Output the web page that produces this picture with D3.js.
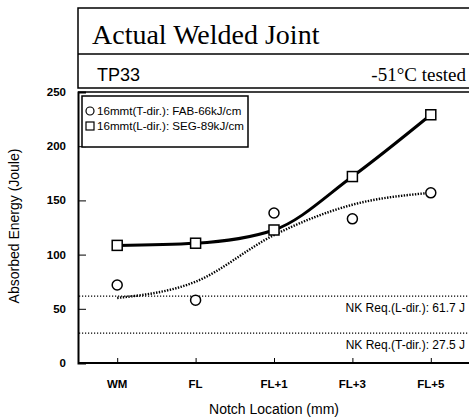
<!DOCTYPE html>
<html>
<head>
<meta charset="utf-8">
<script src="https://cdn.jsdelivr.net/npm/d3@7"></script>
<style>
  body { margin: 0; background: #fff; }
  text { font-family: "Liberation Sans", Arial, sans-serif; fill: #000; }
  .serif { font-family: "Liberation Serif", "Times New Roman", serif; }
</style>
</head>
<body>
<div id="chart"></div>
<script>
var locations = ["WM", "FL", "FL+1", "FL+3", "FL+5"];
var yTicks = [0, 50, 100, 150, 200, 250];
// 16mmt(L-dir.): SEG-89kJ/cm  (squares, solid line)
var lDir = [108.5, 110.5, 122.7, 172, 229];
// 16mmt(T-dir.): FAB-66kJ/cm  (circles)
var tDir = [72, 58, 138.4, 133, 157];
// dotted trend curve drawn through the T-dir. points
var tTrend = [60, 75, 118, 146, 157];
var nkReq = [
  {label: "NK Req.(L-dir.): 61.7 J", value: 61.7},
  {label: "NK Req.(T-dir.): 27.5 J", value: 27.5}
];

var W = 469, H = 420;
var margin = {top: 92, right: 0, bottom: 57, left: 78};

var svg = d3.select("#chart").append("svg")
    .attr("width", W)
    .attr("height", H);

var x = d3.scalePoint()
  .domain(locations)
  .range([margin.left, margin.left + 392])
  .padding(0.5);

var y = d3.scaleLinear()
  .domain([0, 250])
  .range([H - margin.bottom, margin.top]);

// header boxes
svg.append("rect")
  .attr("x", 78).attr("y", 8).attr("width", 420).attr("height", 80)
  .attr("fill", "none").attr("stroke", "#000").attr("stroke-width", 1.5);
svg.append("line")
  .attr("x1", 78).attr("x2", 469).attr("y1", 54).attr("y2", 54)
  .attr("stroke", "#000").attr("stroke-width", 1.5);
svg.append("text").attr("class", "serif")
  .attr("x", 92).attr("y", 44)
  .style("font-size", "28px")
  .text("Actual Welded Joint");
svg.append("text")
  .attr("x", 97).attr("y", 81)
  .style("font-size", "18px")
  .text("TP33");
svg.append("text").attr("class", "serif")
  .attr("x", 466).attr("y", 81)
  .attr("text-anchor", "end")
  .style("font-size", "19px")
  .text("-51°C tested");

// plot frame: top border + axes
svg.append("line")
  .attr("x1", margin.left).attr("x2", W).attr("y1", y(250)).attr("y2", y(250))
  .attr("stroke", "#000").attr("stroke-width", 1.5);

var yAxis = svg.append("g")
  .attr("transform", "translate(" + margin.left + ",0)")
  .call(d3.axisRight(y).tickValues(yTicks).tickSize(8).tickFormat(""));
yAxis.select(".domain").attr("stroke-width", 2);
yAxis.selectAll("text").remove();

var xAxis = svg.append("g")
  .attr("transform", "translate(0," + y(0) + ")")
  .call(d3.axisTop(x).tickSize(5).tickSizeOuter(0));
xAxis.select(".domain").attr("stroke-width", 2)
  .attr("d", "M" + margin.left + ",0H" + W);
xAxis.selectAll("text").remove();

// tick labels
svg.selectAll(".ylab").data(yTicks).enter().append("text")
  .attr("class", "ylab")
  .attr("x", 66)
  .attr("y", function(d) { return y(d) + 4; })
  .attr("text-anchor", "end")
  .style("font-size", "11.5px").style("font-weight", "bold")
  .text(function(d) { return d; });

svg.selectAll(".xlab").data(locations).enter().append("text")
  .attr("class", "xlab")
  .attr("x", function(d) { return x(d); })
  .attr("y", 388)
  .attr("text-anchor", "middle")
  .style("font-size", "11.5px").style("font-weight", "bold")
  .text(function(d) { return d; });

// axis titles
svg.append("text")
  .attr("x", 274).attr("y", 414)
  .attr("text-anchor", "middle")
  .style("font-size", "14px")
  .text("Notch Location (mm)");
svg.append("text")
  .attr("transform", "translate(19,226) rotate(-90)")
  .attr("text-anchor", "middle")
  .style("font-size", "14px")
  .text("Absorbed Energy (Joule)");

// NK requirement lines
svg.selectAll(".nk").data(nkReq).enter().append("line")
  .attr("class", "nk")
  .attr("x1", margin.left + 1).attr("x2", W)
  .attr("y1", function(d) { return y(d.value); })
  .attr("y2", function(d) { return y(d.value); })
  .attr("stroke", "#000").attr("stroke-width", 1.3)
  .attr("stroke-dasharray", "1.2,1.8");
svg.selectAll(".nklab").data(nkReq).enter().append("text")
  .attr("class", "nklab")
  .attr("x", 465)
  .attr("y", function(d) { return y(d.value) + 16; })
  .attr("text-anchor", "end")
  .style("font-size", "12px")
  .text(function(d) { return d.label; });

// T-dir trend (dotted)
var line = d3.line()
  .x(function(d, i) { return x(locations[i]); })
  .y(function(d) { return y(d); })
  .curve(d3.curveMonotoneX);

svg.append("path")
  .attr("d", line(tTrend))
  .attr("fill", "none").attr("stroke", "#000")
  .attr("stroke-width", 2.4)
  .attr("stroke-dasharray", "1.4,1.4");

// L-dir solid line
svg.append("path")
  .attr("d", line(lDir))
  .attr("fill", "none").attr("stroke", "#000")
  .attr("stroke-width", 3);

// markers
svg.selectAll(".sq").data(lDir).enter().append("rect")
  .attr("class", "sq")
  .attr("x", function(d, i) { return x(locations[i]) - 5; })
  .attr("y", function(d) { return y(d) - 5; })
  .attr("width", 10).attr("height", 10)
  .attr("fill", "#fff").attr("stroke", "#000").attr("stroke-width", 1.5);

svg.selectAll(".ci").data(tDir).enter().append("circle")
  .attr("class", "ci")
  .attr("cx", function(d, i) { return x(locations[i]); })
  .attr("cy", function(d) { return y(d); })
  .attr("r", 5)
  .attr("fill", "#fff").attr("stroke", "#000").attr("stroke-width", 1.5);

// legend
var lg = svg.append("g");
lg.append("rect")
  .attr("x", 82).attr("y", 96).attr("width", 166).attr("height", 51)
  .attr("fill", "#fff").attr("stroke", "#000").attr("stroke-width", 1.5);
lg.append("circle")
  .attr("cx", 90).attr("cy", 111).attr("r", 4)
  .attr("fill", "none").attr("stroke", "#000").attr("stroke-width", 1.2);
lg.append("rect")
  .attr("x", 86).attr("y", 122).attr("width", 8).attr("height", 8)
  .attr("fill", "none").attr("stroke", "#000").attr("stroke-width", 1.2);
lg.append("text")
  .attr("x", 97).attr("y", 115)
  .style("font-size", "11.6px")
  .text("16mmt(T-dir.): FAB-66kJ/cm");
lg.append("text")
  .attr("x", 97).attr("y", 130)
  .style("font-size", "11.6px")
  .text("16mmt(L-dir.): SEG-89kJ/cm");
</script>
</body>
</html>
